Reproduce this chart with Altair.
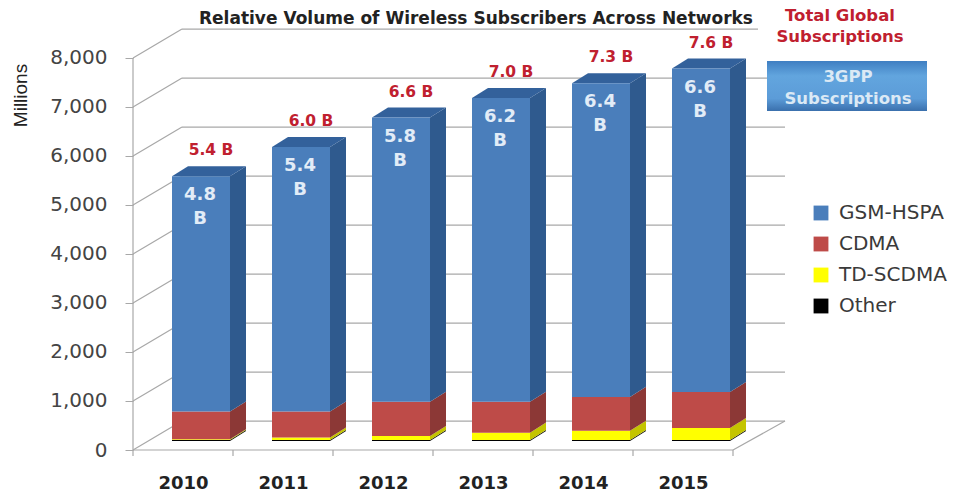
import altair as alt
import pandas as pd

# Values in millions of subscriptions
years = ["2010", "2011", "2012", "2013", "2014", "2015"]
totals = [5400, 6000, 6600, 7000, 7300, 7600]
gsm_hspa = [4800, 5400, 5800, 6200, 6400, 6600]
td_scdma = [15, 50, 80, 150, 190, 245]
other = [20, 20, 20, 20, 20, 20]
series = ["Other", "TD-SCDMA", "CDMA", "GSM-HSPA"]
legend_order = ["GSM-HSPA", "CDMA", "TD-SCDMA", "Other"]
y_ticks = [0, 1000, 2000, 3000, 4000, 5000, 6000, 7000, 8000]
total_labels = ["5.4 B", "6.0 B", "6.6 B", "7.0 B", "7.3 B", "7.6 B"]
inner_labels = ["4.8\nB", "5.4\nB", "5.8\nB", "6.2\nB", "6.4\nB", "6.6\nB"]

front_colors = ["#4a7ebb", "#be4b48", "#ffff00", "#000000"]
side_colors = {"GSM-HSPA": "#2f5a8e", "CDMA": "#8c3836", "TD-SCDMA": "#c4c400", "Other": "#000000"}
top_color = "#33619b"
grid_color = "#a8a8a8"
red_text = "#c0202f"

# Oblique projection of the bars and the chart box, in axis units
WALL_DX, WALL_DY = 0.49, 590
BAR_DX, BAR_DY = 0.16, 205
BAR_LEFT, BAR_RIGHT = 0.39, 0.97
BAR_BASE = 184
X_END = 6.52
Y_END = 8571

PLOT_W, PLOT_H = 652, 420
PAD_L, PAD_T = 133, 30

front_rows, side_rows, top_rows, label_rows = [], [], [], []
for i, year in enumerate(years):
    cdma = totals[i] - gsm_hspa[i] - td_scdma[i] - other[i]
    sizes = {"Other": other[i], "TD-SCDMA": td_scdma[i], "CDMA": cdma, "GSM-HSPA": gsm_hspa[i]}
    low = BAR_BASE
    left, right = i + BAR_LEFT, i + BAR_RIGHT
    for name in series:
        high = low + sizes[name]
        front_rows.append(dict(series=name, x=left, x2=right, y=low, y2=high))
        key = f"{year}-{name}"
        side_rows.append(dict(key=key, shade=side_colors[name], x=right, y=low, y2=high))
        side_rows.append(dict(key=key, shade=side_colors[name], x=right + BAR_DX, y=low + BAR_DY, y2=high + BAR_DY))
        low = high
    top_rows.append(dict(key=year, x=left, x2=right, y=low))
    top_rows.append(dict(key=year, x=left + BAR_DX, x2=right + BAR_DX, y=low + BAR_DY))
    label_rows.append(dict(x=i + 0.78, y=low, total=total_labels[i], inner=inner_labels[i], xin=i + 0.67))

fronts = pd.DataFrame(front_rows)
sides = pd.DataFrame(side_rows)
tops = pd.DataFrame(top_rows)
labels = pd.DataFrame(label_rows)

x_scale = alt.Scale(domain=[0, X_END], nice=False, zero=False)
y_scale = alt.Scale(domain=[0, Y_END], nice=False, zero=False)
Y_TITLE = "Millions"


def qx(field="x", **kw):
    return alt.X(f"{field}:Q", scale=x_scale, title=None, **kw)


def qy(field="y", **kw):
    return alt.Y(f"{field}:Q", scale=y_scale, title=Y_TITLE, **kw)


# Back wall and floor lines, plus the diagonals running along the left wall
back_rows = [dict(x=WALL_DX, x2=(758 - PAD_L) / 100 if v == 8000 else X_END, y=v + WALL_DY) for v in y_ticks[1:]]
back_rows.append(dict(x=WALL_DX, x2=X_END, y=WALL_DY))
back = (
    alt.Chart(pd.DataFrame(back_rows))
    .mark_rule(color=grid_color, strokeWidth=1.2)
    .encode(x=qx(), x2="x2:Q", y=qy())
)

diag_rows = []
for v in y_ticks:
    diag_rows.append(dict(key=f"w{v}", x=0, y=v))
    diag_rows.append(dict(key=f"w{v}", x=WALL_DX, y=v + WALL_DY))
diag_rows.append(dict(key="right", x=6, y=0))
diag_rows.append(dict(key="right", x=X_END, y=WALL_DY))
diagonals = (
    alt.Chart(pd.DataFrame(diag_rows))
    .mark_line(color=grid_color, strokeWidth=1.2)
    .encode(x=qx(), y=qy(), detail="key:N")
)

left_wall = (
    alt.Chart(pd.DataFrame({"x": [0], "y": [0], "y2": [y_ticks[-1]]}))
    .mark_rule(color=grid_color, strokeWidth=1.2)
    .encode(
        x=qx(),
        y=qy(
            axis=alt.Axis(
                values=y_ticks,
                format=",d",
                domain=False,
                grid=False,
                ticks=True,
                tickSize=8,
                tickColor=grid_color,
                labelFont="DejaVu Sans",
                labelFontSize=20,
                labelColor="#444444",
                labelPadding=18,
                titleFont="Liberation Sans",
                titleFontSize=19,
                titleFontWeight="normal",
                titleColor="#222222",
                titleX=-103,
                titleY=65,
                titleAngle=-90,
            ),
        ),
        y2="y2:Q",
    )
)

floor = (
    alt.Chart(pd.DataFrame({"x": [0.0], "x2": [6.0], "y": [0]}))
    .mark_rule(color=grid_color, strokeWidth=1.2)
    .encode(
        x=qx(
            axis=alt.Axis(
                values=[i + 0.5 for i in range(len(years))],
                labelExpr=f"{years}[floor(datum.value)]",
                domain=False,
                ticks=False,
                grid=False,
                labelFont="DejaVu Sans",
                labelFontSize=18,
                labelFontWeight="bold",
                labelColor="#222222",
                labelPadding=33,
                labelBaseline="middle",
            )
        ),
        x2="x2:Q",
        y=qy(),
    )
)

category_ticks = (
    alt.Chart(pd.DataFrame({"x": list(range(len(years) + 1)), "y": [0] * (len(years) + 1)}))
    .mark_rule(color=grid_color, strokeWidth=1.2)
    .encode(x=qx(), y=qy(), y2=alt.value(PLOT_H + 6))
)

side_faces = (
    alt.Chart(sides)
    .mark_area(interpolate="linear", line=False)
    .encode(
        x=qx(),
        y=qy(stack=None),
        y2="y2:Q",
        detail="key:N",
        fill=alt.Fill("shade:N", scale=None),
    )
)

top_faces = (
    alt.Chart(tops)
    .mark_area(orient="horizontal", interpolate="linear", color=top_color)
    .encode(x=qx(stack=None), x2="x2:Q", y=qy(), detail="key:N")
)

front_faces = (
    alt.Chart(fronts)
    .mark_rect()
    .encode(
        x=qx(),
        x2="x2:Q",
        y=qy(),
        y2="y2:Q",
        color=alt.Color(
            "series:N",
            scale=alt.Scale(domain=legend_order, range=front_colors),
            sort=legend_order,
            legend=alt.Legend(
                title=None,
                orient="none",
                legendX=678,
                legendY=173,
                symbolType="square",
                symbolSize=220,
                symbolStrokeWidth=0,
                symbolOpacity=1,
                labelFont="DejaVu Sans",
                labelFontSize=20,
                labelColor="#3a3a3a",
                labelOffset=8,
                rowPadding=11,
            ),
        ),
    )
)

total_text = (
    alt.Chart(labels)
    .mark_text(font="DejaVu Sans", fontWeight="bold", fontSize=15.5, color=red_text, dy=-26)
    .encode(x=qx(), y=qy(), text="total:N")
)

inner_text = (
    alt.Chart(labels)
    .mark_text(
        font="DejaVu Sans",
        fontWeight="bold",
        fontSize=18,
        color="#e2ecf7",
        lineBreak="\n",
        lineHeight=24,
        baseline="top",
        dy=10,
    )
    .encode(x=qx("xin"), y=qy(), text="inner:N")
)

# Side annotations sit in the margin to the right of the plot area
right_heading = (
    alt.Chart(pd.DataFrame({"t": ["Total Global\nSubscriptions"]}))
    .mark_text(
        font="DejaVu Sans",
        fontWeight="bold",
        fontSize=16.5,
        color=red_text,
        lineBreak="\n",
        lineHeight=21,
        baseline="top",
    )
    .encode(x=alt.value(840 - PAD_L), y=alt.value(8 - PAD_T), text="t:N")
)

box = (
    alt.Chart(pd.DataFrame({"k": [0]}))
    .mark_rect(
        color=alt.Gradient(
            gradient="linear",
            x1=0, x2=0, y1=0, y2=1,
            stops=[
                alt.GradientStop(color="#3f7fc2", offset=0),
                alt.GradientStop(color="#62a5de", offset=0.3),
                alt.GradientStop(color="#5c9cd8", offset=0.75),
                alt.GradientStop(color="#3a70ad", offset=1),
            ],
        )
    )
    .encode(
        x=alt.value(767 - PAD_L),
        x2=alt.value(927 - PAD_L),
        y=alt.value(61 - PAD_T),
        y2=alt.value(111 - PAD_T),
    )
)

box_text = (
    alt.Chart(pd.DataFrame({"t": ["3GPP\nSubscriptions"]}))
    .mark_text(
        font="DejaVu Sans",
        fontWeight="bold",
        fontSize=16.5,
        color="#dbe9f5",
        lineBreak="\n",
        lineHeight=22,
        baseline="top",
    )
    .encode(x=alt.value(848 - PAD_L), y=alt.value(69 - PAD_T), text="t:N")
)

chart = (
    alt.layer(
        left_wall, floor, back, diagonals, category_ticks,
        side_faces, top_faces, front_faces,
        total_text, inner_text, right_heading, box, box_text,
    )
    .properties(
        width=PLOT_W,
        height=PLOT_H,
        autosize="none",
        background="white",
        padding={"left": PAD_L, "top": PAD_T, "right": 959 - PAD_L - PLOT_W, "bottom": 493 - PAD_T - PLOT_H},
        title=alt.TitleParams(
            "Relative Volume of Wireless Subscribers Across Networks",
            anchor="start",
            font="DejaVu Sans",
            fontSize=17,
            fontWeight="bold",
            color="#222222",
            offset=0,
            dx=188,
            dy=20,
        ),
    )
    .configure_view(strokeWidth=0)
)

chart.save("out.html", embed_options={"renderer": "svg", "actions": False})
